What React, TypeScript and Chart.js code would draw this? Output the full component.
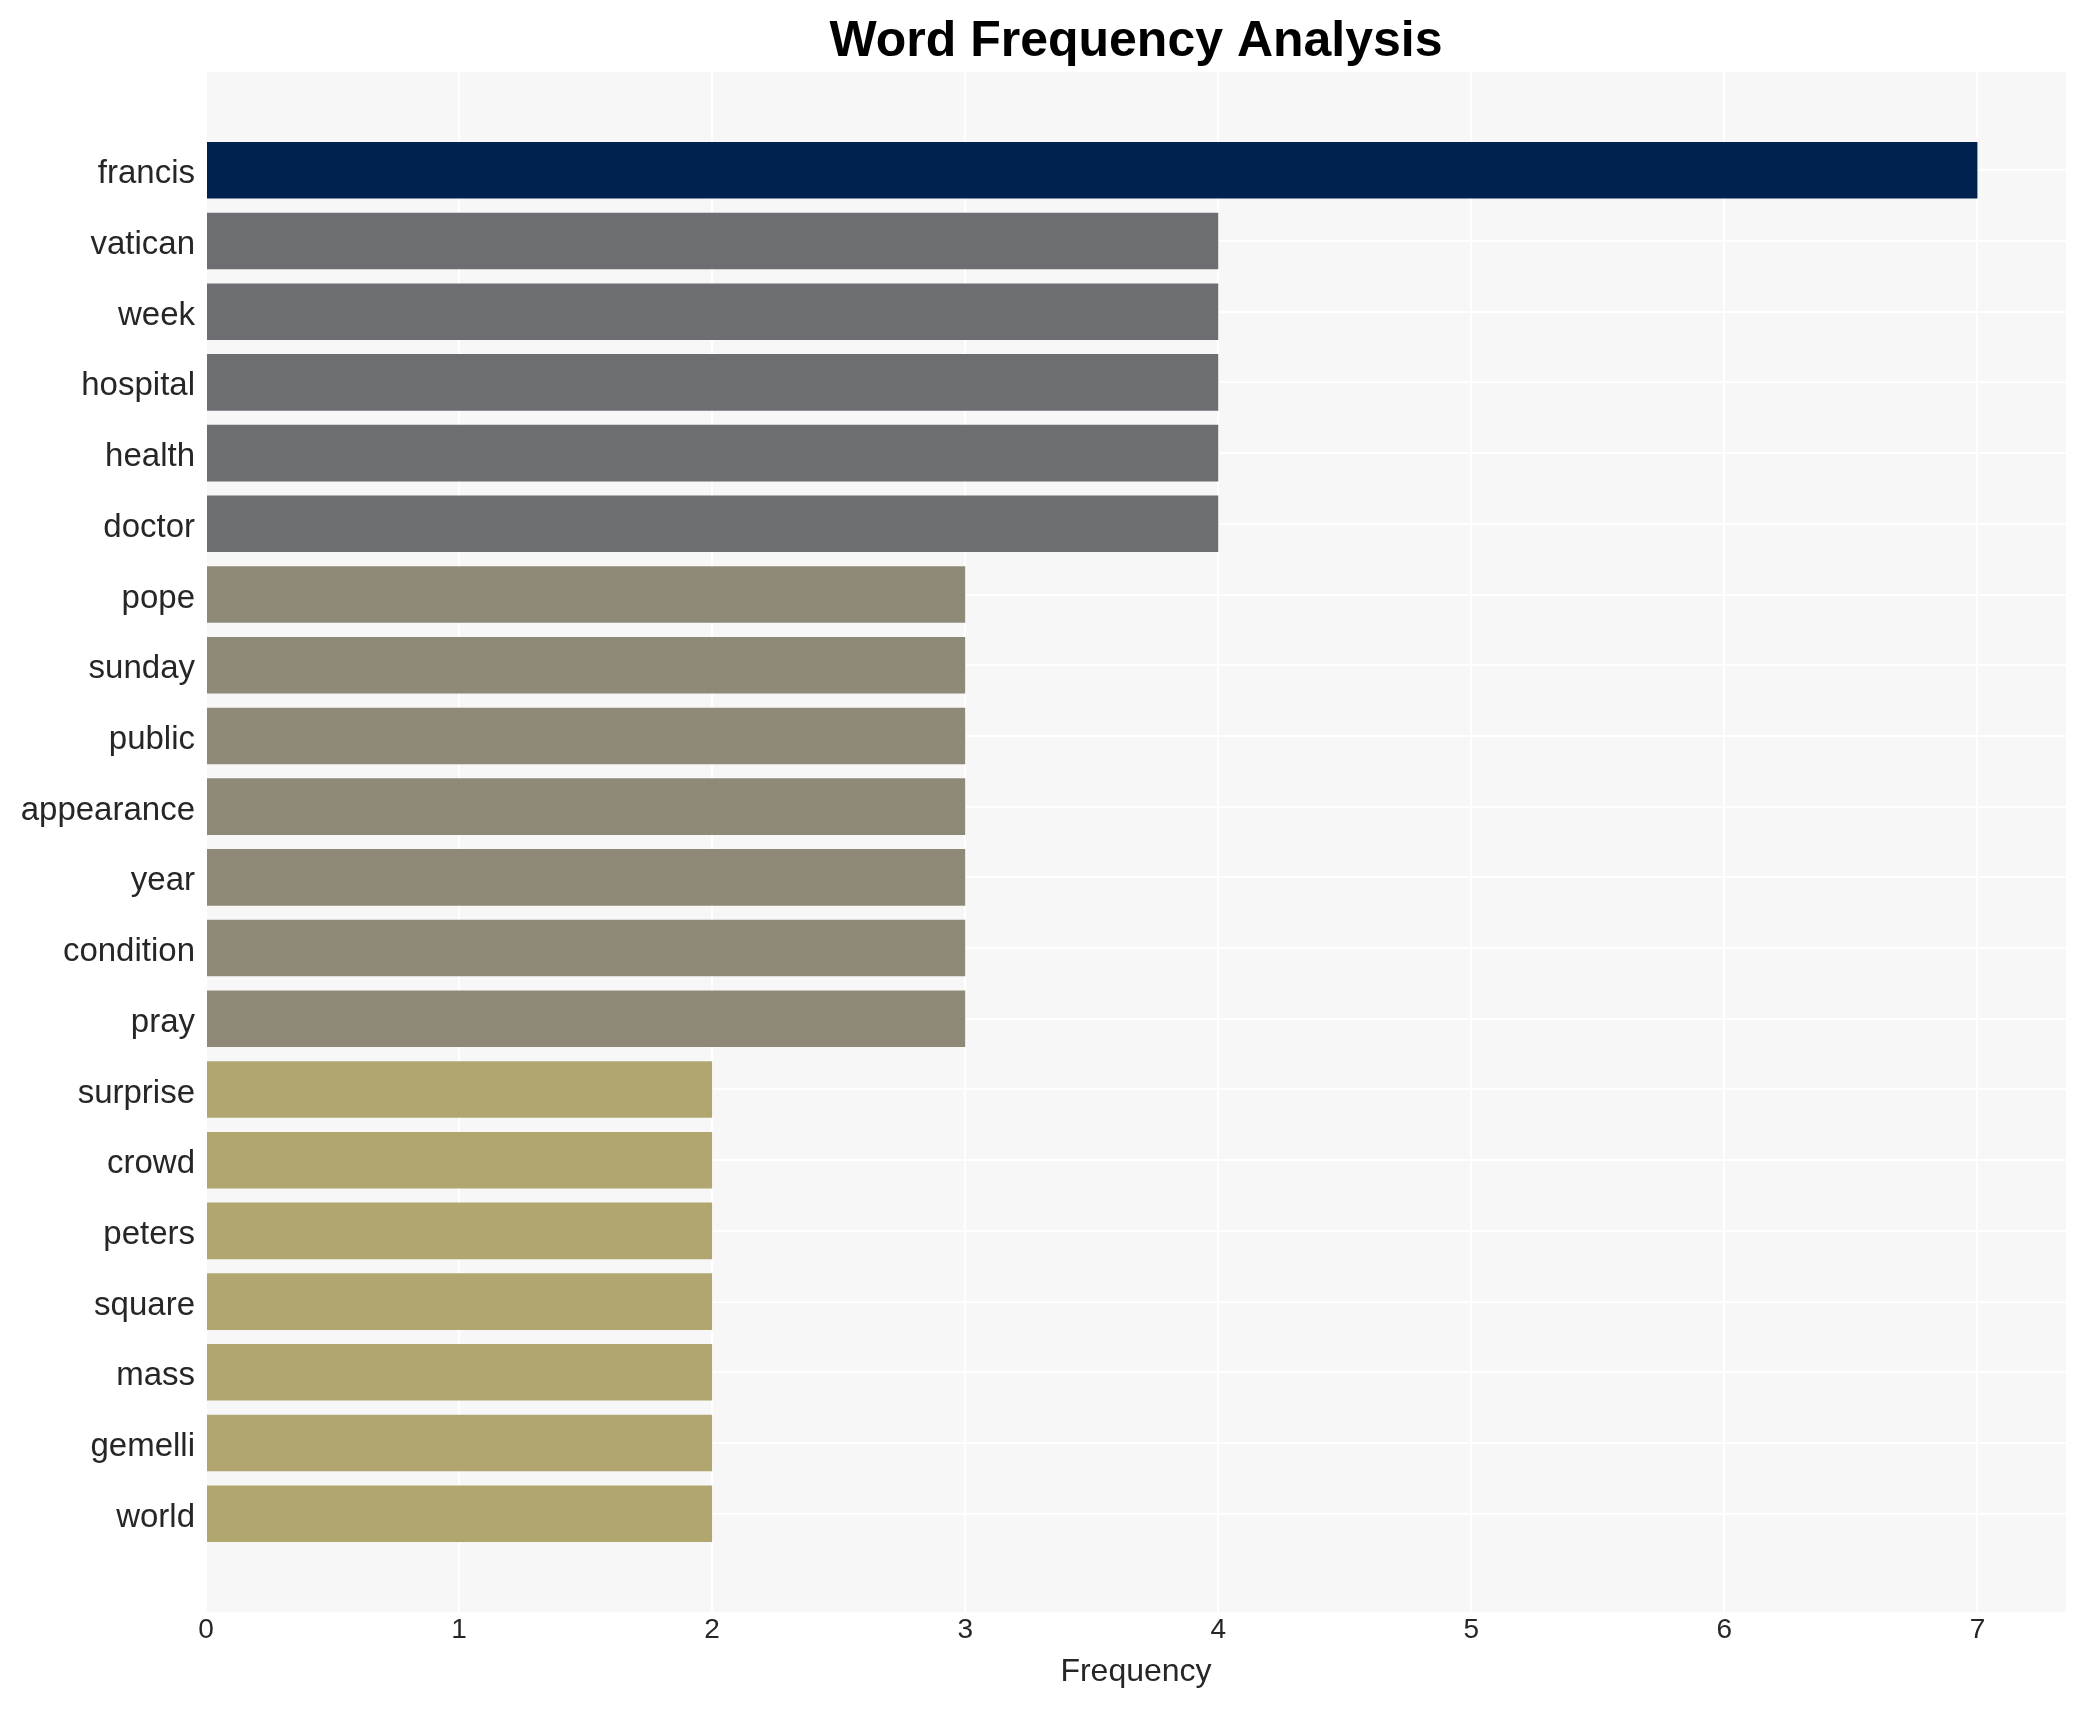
import React, { useEffect, useRef } from 'react';
import { Chart, registerables } from 'chart.js';

Chart.register(...registerables);

const words = [
  'francis', 'vatican', 'week', 'hospital', 'health', 'doctor', 'pope', 'sunday',
  'public', 'appearance', 'year', 'condition', 'pray', 'surprise', 'crowd',
  'peters', 'square', 'mass', 'gemelli', 'world',
];
const counts = [7, 4, 4, 4, 4, 4, 3, 3, 3, 3, 3, 3, 3, 2, 2, 2, 2, 2, 2, 2];
const xTicks = [0, 1, 2, 3, 4, 5, 6, 7];
const colorByCount: Record<number, string> = {
  7: '#00224e',
  4: '#6d6e72',
  3: '#8f8a78',
  2: '#b1a66f',
};

const FONT = "'Liberation Sans', Arial, Helvetica, sans-serif";

const plotBg = {
  id: 'plotBg',
  beforeDraw(chart: any) {
    const { ctx, chartArea } = chart;
    if (!chartArea) return;
    ctx.save();
    ctx.fillStyle = '#f7f7f7';
    ctx.fillRect(chartArea.left, chartArea.top, chartArea.right - chartArea.left, chartArea.bottom - chartArea.top);
    ctx.restore();
  },
};

export default function App() {
  const ref = useRef<HTMLCanvasElement | null>(null);

  useEffect(() => {
    if (!ref.current) return;
    const xMax = Math.max(...counts) * 1.05;
    const n = words.length;
    const pad = (n - 1 + 0.8) * 0.05 + 0.4;
    const chart = new Chart(ref.current, {
      type: 'bar',
      data: {
        datasets: [
          {
            data: words.map((_, i) => ({ x: counts[i], y: i })),
            backgroundColor: counts.map((c) => colorByCount[c]),
            borderWidth: 0,
            barPercentage: 0.8,
            categoryPercentage: 1.0,
          },
        ],
      },
      options: {
        indexAxis: 'y',
        animation: false,
        responsive: false,
        devicePixelRatio: 1,
        layout: { padding: { left: 0, right: 20, top: 0, bottom: 0 } },
        plugins: {
          legend: { display: false },
          tooltip: { enabled: false },
          title: {
            display: true,
            fullSize: false,
            text: 'Word Frequency Analysis',
            color: '#000000',
            font: { family: FONT, size: 50, weight: 'bold' },
            padding: { top: 12, bottom: 0 },
          },
        },
        scales: {
          x: {
            type: 'linear',
            min: 0,
            max: xMax,
            offset: false,
            afterBuildTicks: (scale: any) => {
              scale.ticks = xTicks.map((v) => ({ value: v }));
            },
            afterFit: (scale: any) => {
              scale.height = 98;
            },
            grid: { color: '#ffffff', lineWidth: 2, drawTicks: false, offset: false },
            border: { display: false },
            ticks: {
              color: '#262626',
              font: { family: FONT, size: 28 },
              padding: 1,
              autoSkip: false,
              maxRotation: 0,
            },
            title: {
              display: true,
              text: 'Frequency',
              color: '#262626',
              font: { family: FONT, size: 32 },
              padding: { top: 0, bottom: 19 },
            },
          },
          y: {
            type: 'linear',
            reverse: true,
            offset: false,
            min: -pad,
            max: n - 1 + pad,
            afterBuildTicks: (scale: any) => {
              scale.ticks = words.map((_, i) => ({ value: i }));
            },
            afterFit: (scale: any) => {
              scale.width = 206;
            },
            grid: { color: '#ffffff', lineWidth: 2, drawTicks: false, offset: false },
            border: { display: false },
            ticks: {
              color: '#262626',
              font: { family: FONT, size: 33 },
              padding: 11,
              labelOffset: 4,
              autoSkip: false,
              callback: (v: any) => words[Number(v)] ?? '',
            },
          },
        },
      },
      plugins: [plotBg],
    } as any);
    return () => chart.destroy();
  }, []);

  return (
    <div style={{ position: 'absolute', left: 0, top: 0, width: 2086, height: 1710, background: '#ffffff' }}>
      <canvas ref={ref} width={2086} height={1710} style={{ display: 'block' }} />
    </div>
  );
}
